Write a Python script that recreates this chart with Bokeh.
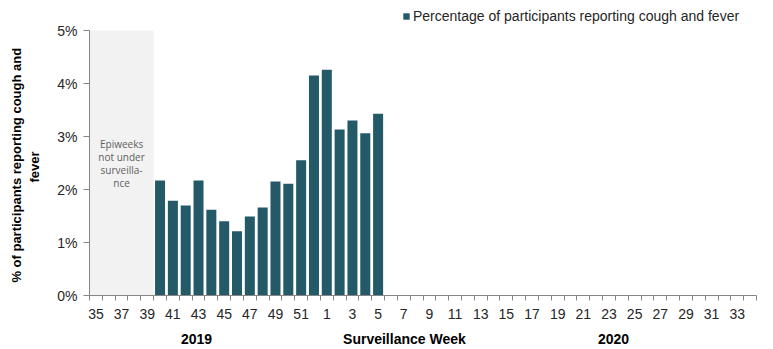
from bokeh.plotting import figure
from bokeh.models import (Range1d, FixedTicker, Label, Legend, LegendItem, LinearAxis,
                          PrintfTickFormatter, BoxAnnotation, ColumnDataSource)
from bokeh.embed import file_html
from bokeh.resources import INLINE

# ---- data ----
weeks = list(range(35, 53)) + list(range(1, 35))          # surveillance weeks shown on axis
bar_weeks = list(range(40, 53)) + list(range(1, 6))       # weeks with data
bar_values = [2.17, 1.79, 1.70, 2.17, 1.62, 1.40, 1.21, 1.49, 1.66,
              2.15, 2.11, 2.55, 4.15, 4.26, 3.13, 3.30, 3.06, 3.43]  # % reporting cough and fever
unsurveilled_weeks = [35, 36, 37, 38, 39]
y_ticks = [0, 1, 2, 3, 4, 5]
group_labels = ["2019", "Surveillance Week", "2020"]
group_positions = [784, 2405, 4035]   # in 1/100 category-index units
series_name = "Percentage of participants reporting cough and fever"

BAR = "#245a67"
AXIS = "#868686"
TXT = "#262626"
FONT = "Liberation Sans"
NB = "\u00a0"

idx = {w: i for i, w in enumerate(weeks)}
src = ColumnDataSource(dict(x=[idx[w] for w in bar_weeks], top=bar_values))

Y_MAX = 5
# frame extends above 5% so the legend fits inside it
p = figure(width=773, height=349, output_backend="svg", toolbar_location=None,
           x_range=Range1d(-0.5, len(weeks) - 0.5), y_range=Range1d(0, Y_MAX * 293 / 265),
           min_border_left=89, min_border_right=17, min_border_top=2, min_border_bottom=54)
p.extra_x_ranges = {"grp": Range1d(-50, (len(weeks) - 0.5) * 100)}
p.outline_line_color = None
p.xgrid.grid_line_color = None
p.ygrid.grid_line_color = None
p.background_fill_color = "white"
p.border_fill_color = "white"

# shaded region
p.add_layout(BoxAnnotation(left=idx[unsurveilled_weeks[0]] - 0.5, right=idx[unsurveilled_weeks[-1]] + 0.5,
                           bottom=0, top=Y_MAX, fill_color="#f2f2f2", fill_alpha=1,
                           line_color=None, level="underlay"))
p.add_layout(Label(x=(idx[unsurveilled_weeks[0]] + idx[unsurveilled_weeks[-1]]) / 2, y=2.49,
                   text="Epiweeks\nnot under\nsurveilla-\nnce", text_align="center",
                   text_baseline="middle", text_font="Open Sans", text_font_size="10px",
                   text_color="#5e5e5e", text_line_height=0.93))

r = p.vbar(x="x", top="top", width=0.78, source=src, fill_color=BAR, line_color=None)

# x axis
xa = p.xaxis[0]
xa.ticker = FixedTicker(ticks=list(range(0, len(weeks), 2)),
                        minor_ticks=[i - 0.5 for i in range(len(weeks) + 1)])
xa.major_label_overrides = {i: str(weeks[i]) for i in range(0, len(weeks), 2)}
xa.major_tick_out = 0
xa.major_tick_in = 0
xa.minor_tick_out = 5
xa.minor_tick_in = 0
xa.minor_tick_line_color = AXIS
xa.axis_line_color = AXIS
xa.major_label_text_font = FONT
xa.major_label_text_font_size = "14px"
xa.major_label_text_color = TXT
xa.major_label_standoff = 8

# second row of x labels (years / axis title)
xa2 = LinearAxis(x_range_name="grp", ticker=FixedTicker(ticks=group_positions, minor_ticks=[]),
                 major_label_overrides={pos: t for pos, t in zip(group_positions, group_labels)})
xa2.axis_line_color = None
xa2.major_tick_line_color = None
xa2.minor_tick_line_color = None
xa2.major_label_text_font = FONT
xa2.major_label_text_font_size = "14px"
xa2.major_label_text_font_style = "bold"
xa2.major_label_text_color = "black"
xa2.major_label_standoff = 3
p.add_layout(xa2, "below")

# y axis
ya = p.yaxis[0]
ya.bounds = (0, Y_MAX)
ya.ticker = FixedTicker(ticks=y_ticks)
ya.formatter = PrintfTickFormatter(format="%d%%")
ya.major_tick_out = 6
ya.major_tick_in = 0
ya.minor_tick_line_color = None
ya.major_tick_line_color = AXIS
ya.axis_line_color = AXIS
ya.major_label_text_font = FONT
ya.major_label_text_font_size = "14px"
ya.major_label_text_color = TXT
ya.major_label_standoff = 6
# trailing no-break spaces re-centre the title on the 0-5% span of the axis
ya.axis_label = "% of participants reporting cough and" + NB * 9 + "\nfever" + NB * 10
ya.axis_label_text_font = FONT
ya.axis_label_text_font_size = "13px"
ya.axis_label_text_font_style = "bold"
ya.axis_label_text_color = "black"
ya.axis_label_standoff = 12

legend = Legend(items=[LegendItem(label=series_name, renderers=[r])],
                location=(313, 271), orientation="horizontal",
                border_line_color=None, background_fill_alpha=0, padding=0, margin=0,
                glyph_width=8, glyph_height=8, label_standoff=3,
                label_text_font=FONT, label_text_font_size="14px", label_text_color=TXT)
p.add_layout(legend)

open("out.html", "w").write(file_html(p, INLINE))
